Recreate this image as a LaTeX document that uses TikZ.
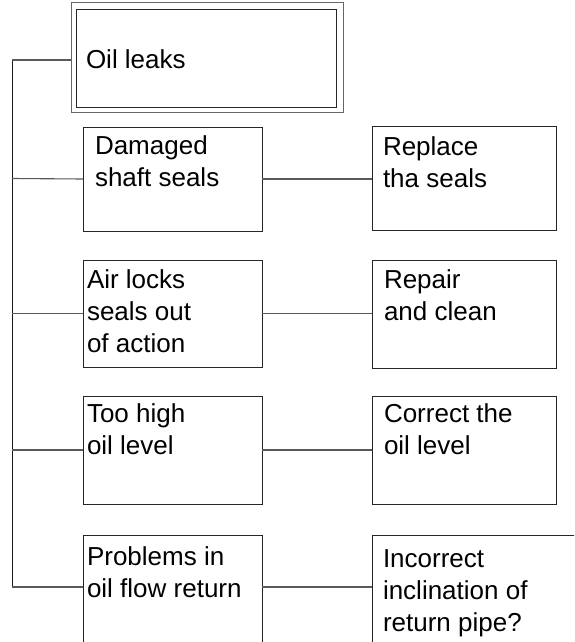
\documentclass[tikz,border=0pt]{standalone}
\usepackage{fontspec}
\setmainfont{Liberation Sans}
\begin{document}
\begin{tikzpicture}[x=1pt,y=-1pt,
  box/.style={draw=black!85,line width=1pt,inner sep=0pt,outer sep=0pt,anchor=north west,minimum width=#1},
  box/.default=179pt,
  conn/.style={draw=black!65,line width=1.1pt},
  trunk/.style={draw=black!90,line width=1pt},
  txt/.style={inner sep=0pt,outer sep=0pt,anchor=north west,align=left,font=\fontsize{26}{32}\selectfont}]
\useasboundingbox (0,0) rectangle (574,642);
\clip (0,0) rectangle (574,642);
\fill[white] (0,0) rectangle (574,642);
% top box (double border)
\node[box=272pt,draw=black!60,minimum height=109pt] (top) at (71,3) {};
\node[box=260pt,minimum height=97pt] (topin) at (76,10) {};
\node[txt] (ttop) at (86,45.6) {\strut Oil leaks};
% left column
\node[box,minimum height=104pt] (c1) at (83,127) {};
\node[box,minimum height=107pt] (c2) at (83,260) {};
\node[box,minimum height=108pt] (c3) at (83,396) {};
\node[box,minimum height=110pt] (c4) at (83,535) {};
% right column
\node[box=184pt,minimum height=104pt] (r1) at (372,126) {};
\node[box=184pt,minimum height=108pt] (r2) at (372,260) {};
\node[box=184pt,minimum height=108pt] (r3) at (372,396) {};
\node[box=220pt,minimum height=110pt] (r4) at (372,535) {};
% texts
\node[txt] (t1) at (95,131.6) {\strut Damaged\\shaft seals};
\node[txt] (t2) at (87,265.6) {\strut Air locks\\seals out\\of action};
\node[txt] (t3) at (87,399.6) {\strut Too high\\oil level};
\node[txt] (t4) at (87,542.6) {\strut Problems in\\oil flow return};
\node[txt] (s1) at (383,132.6) {\strut Replace\\tha seals};
\node[txt] (s2) at (384,265.6) {\strut Repair\\and clean};
\node[txt] (s3) at (384,399.6) {\strut Correct the\\oil level};
\node[txt] (s4) at (383,544.6) {\strut Incorrect\\inclination of\\return pipe?};
% trunk
\coordinate (ktop) at (12,60);
\coordinate (k1) at (12,178.5);
\coordinate (k2) at (12,313.5);
\coordinate (k3) at (12,450);
\coordinate (k4) at (12,587);
\draw[trunk] (ktop) -- (k4);
\draw[conn] (ktop) -- (ktop -| top.west);
\draw[conn] (k1) -- (c1.west);
\draw[conn] (k2) -- (c2.west);
\draw[conn] (k3) -- (c3.west);
\draw[conn] (k4) -- (k4 -| c4.west);
\draw[conn] (c1.east) -- (r1.west |- c1.east);
\draw[conn] (c2.east) -- (r2.west |- c2.east);
\draw[conn] (c3.east) -- (r3.west |- c3.east);
\draw[conn] (k4 -| c4.east) -- (k4 -| r4.west);
\end{tikzpicture}
\end{document}
